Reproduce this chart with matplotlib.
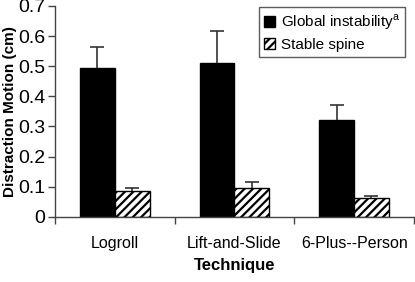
import numpy as np
import matplotlib
matplotlib.use("Agg")
import matplotlib.pyplot as plt
from matplotlib.ticker import FixedLocator

plt.rcParams["font.family"] = ["Liberation Sans", "DejaVu Sans"]
plt.rcParams["hatch.linewidth"] = 1.6

# ── Data ─────────────────────────────────────────────
techniques   = ["Logroll", "Lift-and-Slide", "6-Plus--Person"]
global_mean  = [0.494, 0.509, 0.323]
global_err   = [0.071, 0.109, 0.049]
stable_mean  = [0.086, 0.097, 0.062]
stable_err   = [0.011, 0.018, 0.008]
y_ticks      = [0, 0.1, 0.2, 0.3, 0.4, 0.5, 0.6, 0.7]

fig = plt.figure(figsize=(4.15, 2.82), dpi=100)
ax = fig.add_axes([0.1325, 0.231, 0.865, 0.748])

x = np.arange(len(techniques)) + 0.5
w = 0.29
zeros = np.zeros(len(techniques))
err_kw = dict(ecolor="#333333", elinewidth=1.2, capsize=5, capthick=1.2)

b1 = ax.bar(x - w / 2, global_mean, w, color="black", edgecolor="black",
            yerr=[zeros, global_err], error_kw=err_kw,
            label="Global instability$^{\\mathregular{a}}$")
b2 = ax.bar(x + w / 2, stable_mean, w, color="white", edgecolor="black",
            hatch="////", linewidth=1.0,
            yerr=[zeros, stable_err], error_kw=err_kw, label="Stable spine")

# only upper whiskers: hide the lower caps
for b in (b1, b2):
    caps = b.errorbar.lines[1]
    caps[0].set_visible(False)

ax.set_xlim(0, 3)
ax.set_ylim(0, 0.7)
ax.set_yticks(y_ticks)
ax.set_yticklabels(["0" if v == 0 else f"{v:.1f}" for v in y_ticks])
ax.set_xticks([0, 1, 2, 3])
ax.set_xticklabels([])
ax.xaxis.set_minor_locator(FixedLocator(x))
ax.set_xticklabels(techniques, minor=True)
ax.tick_params(axis="x", which="minor", length=0, pad=14, labelsize=11.5)
ax.tick_params(axis="x", which="major", length=5, width=1, color="#444444")
ax.tick_params(axis="y", length=5, width=1, color="#444444", labelsize=14, pad=2)

for side in ["top", "right"]:
    ax.spines[side].set_visible(False)
for side in ["left", "bottom"]:
    ax.spines[side].set_color("#444444")
    ax.spines[side].set_linewidth(1)

ax.set_ylabel("Distraction Motion (cm)", fontsize=11, fontweight="bold")
ax.yaxis.set_label_coords(-0.105, 0.5)
ax.set_xlabel("Technique", fontsize=12, fontweight="bold", labelpad=4.5)

leg = ax.legend(loc="upper right", bbox_to_anchor=(0.984, 1.01), fontsize=11,
                frameon=True, fancybox=False, edgecolor="#333333",
                handlelength=0.7, handleheight=0.7, handletextpad=0.4,
                borderpad=0.35, labelspacing=0.4, borderaxespad=0.2)
leg.get_frame().set_linewidth(1)

fig.savefig("out.png", dpi=100)
